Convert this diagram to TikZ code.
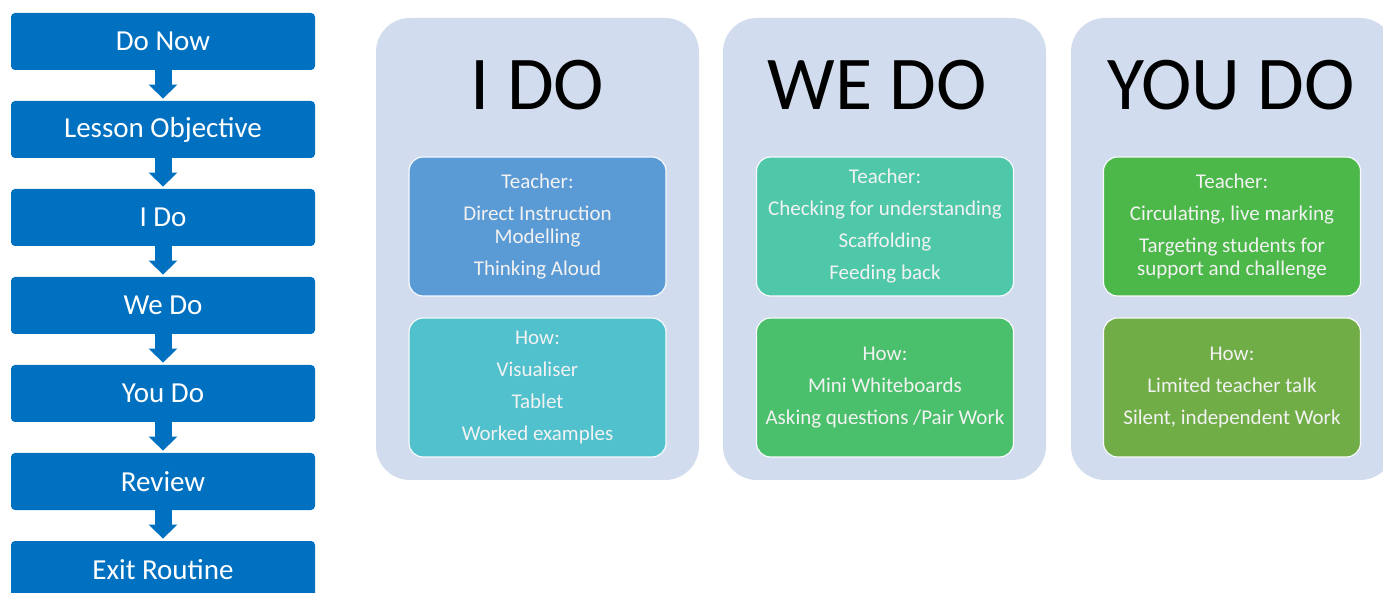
\documentclass[tikz,border=0pt]{standalone}
\usepackage{fontspec}
\setmainfont{Carlito}
\usetikzlibrary{arrows.meta}

\definecolor{flowblue}{HTML}{0070C0}
\definecolor{panelbg}{HTML}{D1DCEE}
\definecolor{idoteach}{HTML}{5B9BD5}
\definecolor{idohow}{HTML}{50C1CD}
\definecolor{wedoteach}{HTML}{4EC8A9}
\definecolor{wedohow}{HTML}{4BC06C}
\definecolor{youdoteach}{HTML}{4BB849}
\definecolor{youdohow}{HTML}{70AD47}

\tikzstyle{stage}=[rectangle, rounded corners=2pt, fill=flowblue, text=white, minimum width=152pt, minimum height=28.5pt, inner sep=0, font=\fontsize{14.5}{16}\selectfont]
\tikzstyle{flowarrow}=[flowblue, line width=8.5pt, -{Triangle[width=14pt, length=7pt]}, shorten >=1pt]
\tikzstyle{panel}=[rectangle, rounded corners=17pt, fill=panelbg, minimum width=161.5pt, minimum height=231pt, inner sep=0]
\tikzstyle{paneltitle}=[font=\fontsize{38}{42}\selectfont, text=black, inner sep=0]
\tikzstyle{card}=[rectangle, rounded corners=7pt, draw=white!85!panelbg, line width=0.6pt, text=white!95!black, minimum width=128.5pt, minimum height=69.5pt, inner sep=0, align=center, font=\fontsize{10.5}{11.5}\selectfont]

\begin{document}
\begin{tikzpicture}[x=0.5pt, y=-0.5pt]

\useasboundingbox [fill=white] (0, 0) rectangle (1383, 593);

\node [stage] (donow) at (163, 41.5) {Do Now};
\node [stage] (objective) at (163, 129.5) {Lesson Objective};
\node [stage] (ido) at (163, 217.5) {I Do};
\node [stage] (wedo) at (163, 305.5) {We Do};
\node [stage] (youdo) at (163, 393.5) {You Do};
\node [stage] (review) at (163, 481.5) {Review};
\node [stage] (exit) at (163, 569.5) {Exit Routine};

\draw [flowarrow] (donow) -- (objective);
\draw [flowarrow] (objective) -- (ido);
\draw [flowarrow] (ido) -- (wedo);
\draw [flowarrow] (wedo) -- (youdo);
\draw [flowarrow] (youdo) -- (review);
\draw [flowarrow] (review) -- (exit);

\node [panel] (idopanel) at (537.5, 249) {};
\node [panel] (wedopanel) at (884.5, 249) {};
\node [panel] (youdopanel) at (1232.5, 249) {};

\node [paneltitle] (idotitle) at (537.5, 85) {I DO};
\node [paneltitle] (wedotitle) at (877, 85) {WE DO};
\node [paneltitle] (youdotitle) at (1231, 85) {YOU DO};

\node [card, fill=idoteach] (idoteacher) at (537.5, 226.5)
        {Teacher:\\[4.5pt] Direct Instruction\\ Modelling\\[4.5pt] Thinking Aloud};
\node [card, fill=idohow] (idohowbox) at (537.5, 387.5)
        {How:\\[4.5pt] Visualiser\\[4.5pt] Tablet\\[4.5pt] Worked examples};

\node [card, fill=wedoteach] (wedoteacher) at (885, 226.5)
        {Teacher:\\[4.5pt] Checking for understanding\\[4.5pt] Scaffolding\\[4.5pt] Feeding back};
\node [card, fill=wedohow] (wedohowbox) at (885, 387.5)
        {How:\\[4.5pt] Mini Whiteboards\\[4.5pt] Asking questions /Pair Work};

\node [card, fill=youdoteach] (youdoteacher) at (1232, 226.5)
        {Teacher:\\[4.5pt] Circulating, live marking\\[4.5pt] Targeting students for\\ support and challenge};
\node [card, fill=youdohow] (youdohowbox) at (1232, 387.5)
        {How:\\[4.5pt] Limited teacher talk\\[4.5pt] Silent, independent Work};

\end{tikzpicture}
\end{document}
